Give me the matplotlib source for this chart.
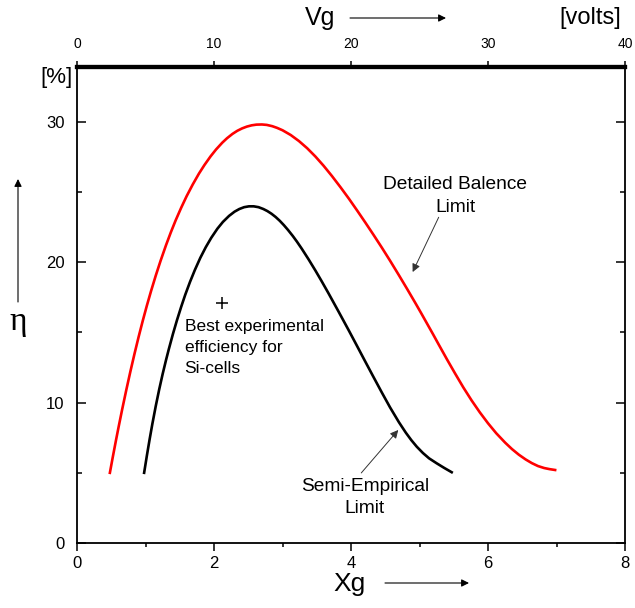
import matplotlib
matplotlib.use("Agg")
import matplotlib.pyplot as plt
from matplotlib.ticker import MultipleLocator

plt.rcParams["font.family"] = ["Liberation Sans", "DejaVu Sans"]

# detailed balance limit (red)
red_x = [0.48, 0.52, 0.57, 0.61, 0.66, 0.72, 0.78, 0.84, 0.90, 0.96, 1.02, 1.08,
         1.15, 1.22, 1.30, 1.37, 1.44, 1.52, 1.60, 1.69, 1.78, 1.86, 1.95, 2.03,
         2.12, 2.19, 2.27, 2.34, 2.41, 2.48, 2.55, 2.62, 2.70, 2.77, 2.85, 2.92,
         3.00, 3.12, 3.24, 3.36, 3.48, 3.60, 3.72, 3.85, 3.97, 4.09, 4.21, 4.33,
         4.45, 4.57, 4.70, 4.82, 4.94, 5.02, 5.11, 5.20, 5.28, 5.40, 5.52, 5.64,
         5.76, 5.88, 6.00, 6.12, 6.25, 6.35, 6.45, 6.55, 6.64, 6.73, 6.82, 6.90,
         6.98]
red_y = [5.0, 6.06, 7.34, 8.33, 9.53, 10.91, 12.23, 13.49, 14.69, 15.83, 16.91, 17.93,
         19.05, 20.1, 21.22, 22.13, 22.98, 23.87, 24.7, 25.54, 26.31, 26.92, 27.54, 28.03,
         28.51, 28.83, 29.14, 29.36, 29.53, 29.66, 29.75, 29.8, 29.81, 29.78, 29.69, 29.57,
         29.4, 29.06, 28.63, 28.12, 27.53, 26.87, 26.15, 25.32, 24.52, 23.68, 22.82, 21.94,
         21.04, 20.11, 19.07, 18.09, 17.09, 16.41, 15.63, 14.85, 14.14, 13.09, 12.07, 11.08,
         10.16, 9.31, 8.53, 7.82, 7.15, 6.69, 6.29, 5.95, 5.69, 5.48, 5.34, 5.26,
         5.2]

# semi-empirical limit (black)
black_x = [0.98, 1.02, 1.06, 1.10, 1.15, 1.20, 1.25, 1.30, 1.34, 1.40, 1.46, 1.52,
           1.58, 1.65, 1.72, 1.80, 1.88, 1.96, 2.05, 2.13, 2.22, 2.30, 2.37, 2.44,
           2.51, 2.58, 2.65, 2.72, 2.78, 2.84, 2.90, 2.96, 3.02, 3.08, 3.15, 3.21,
           3.28, 3.38, 3.48, 3.57, 3.67, 3.82, 3.97, 4.08, 4.20, 4.32, 4.45, 4.57,
           4.70, 4.80, 4.88, 4.96, 5.05, 5.14, 5.25, 5.36, 5.47]
black_y = [5.0, 6.22, 7.38, 8.48, 9.76, 10.94, 12.03, 13.04, 13.8, 14.88, 15.88, 16.81,
           17.68, 18.6, 19.44, 20.31, 21.07, 21.74, 22.39, 22.87, 23.3, 23.6, 23.79, 23.92,
           23.98, 23.98, 23.92, 23.79, 23.64, 23.45, 23.22, 22.95, 22.64, 22.3, 21.87, 21.47,
           20.97, 20.21, 19.41, 18.66, 17.8, 16.47, 15.12, 14.11, 13.0, 11.9, 10.72, 9.66,
           8.6, 7.86, 7.33, 6.86, 6.41, 6.03, 5.68, 5.35, 5.04]

best_si = (2.12, 17.1)

x_ticks = [0, 2, 4, 6, 8]
y_ticks = [0, 10, 20, 30]
vg_ticks = [0, 10, 20, 30, 40]

W, H = 635, 608
fig = plt.figure(figsize=(W / 100, H / 100), dpi=100)
ax = fig.add_axes([77 / W, 1 - 543 / H, 548 / W, 476.5 / H])

ax.plot(red_x, red_y, color="#ff0000", lw=1.9, solid_joinstyle="round")
ax.plot(black_x, black_y, color="black", lw=1.9, solid_joinstyle="round")
ax.plot(*best_si, marker="+", color="black", ms=9, mew=1.1)

ax.set_xlim(0, 8)
ax.set_ylim(0, 33.94)
ax.set_xticks(x_ticks)
ax.set_yticks(y_ticks)
ax.xaxis.set_minor_locator(MultipleLocator(1))
ax.yaxis.set_minor_locator(MultipleLocator(5))
ax.tick_params(axis="x", which="major", direction="out", length=6, width=1.1,
               labelsize=12, pad=3, top=False)
ax.tick_params(axis="x", which="minor", direction="out", length=3, width=1.1, top=False)
ax.tick_params(axis="y", which="major", direction="in", length=6.5, width=1.1,
               labelsize=12, pad=9, right=True)
ax.tick_params(axis="y", which="minor", direction="in", length=3.5, width=1.1, right=True)
for side in ["left", "bottom", "right"]:
    ax.spines[side].set_linewidth(1.3)
ax.spines["top"].set_linewidth(3)

top = ax.twiny()
top.set_xlim(0, 40)
top.set_xticks(vg_ticks)
top.tick_params(axis="x", direction="out", length=4.5, width=1.1, labelsize=10, pad=7)
top.spines["top"].set_linewidth(3)
for side in ["left", "bottom", "right"]:
    top.spines[side].set_visible(False)

# annotations inside the plot
thin = dict(arrowstyle="-|>", color="#333333", lw=0.7, mutation_scale=12,
            shrinkA=0, shrinkB=0)
ax.text(1.57, 13.96, "Best experimental\nefficiency for\nSi-cells", fontsize=12.5,
        ha="left", va="center", linespacing=1.5)
ax.annotate("", xy=(4.90, 19.3), xytext=(5.28, 23.2), arrowprops=thin)
ax.text(5.52, 24.7, "Detailed Balence\nLimit", fontsize=13.8, ha="center",
        va="center", linespacing=1.45)
ax.annotate("", xy=(4.69, 8.05), xytext=(4.15, 4.99), arrowprops=thin)
ax.text(4.20, 3.24, "Semi-Empirical\nLimit", fontsize=13.8, ha="center",
        va="center", linespacing=1.4)


# axis labels with arrows, placed in figure pixels
def fx(px):
    return px / W


def fy(py):
    return 1 - py / H


arrow = dict(arrowstyle="-|>", color="black", lw=0.8, mutation_scale=11,
             shrinkA=0, shrinkB=0)

fig.text(fx(350), fy(584), "Xg", fontsize=19, ha="center", va="center")
fig.add_artist(plt.Annotation("", xy=(fx(469), fy(583)), xytext=(fx(385), fy(583)),
                              xycoords="figure fraction", arrowprops=arrow))

fig.text(fx(320), fy(18), "Vg", fontsize=18, ha="center", va="center")
fig.add_artist(plt.Annotation("", xy=(fx(446), fy(18)), xytext=(fx(350), fy(18)),
                              xycoords="figure fraction", arrowprops=arrow))
fig.text(fx(590), fy(18), "[volts]", fontsize=17, ha="center", va="center")

fig.text(fx(56), fy(78), "[%]", fontsize=16, ha="center", va="center")
fig.text(fx(18), fy(322), "η", fontsize=24, ha="center", va="center",
         family=["Liberation Serif", "DejaVu Serif"])
fig.add_artist(plt.Annotation("", xy=(fx(18), fy(179)), xytext=(fx(18), fy(302)),
                              xycoords="figure fraction", arrowprops=arrow))

fig.savefig("out.png", dpi=100)
